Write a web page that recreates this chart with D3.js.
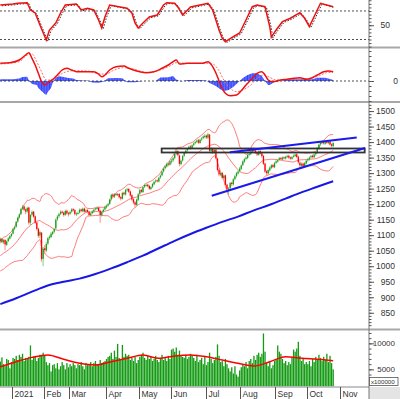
<!DOCTYPE html>
<html><head><meta charset="utf-8">
<script src="https://cdn.jsdelivr.net/npm/d3@7"></script>
<style>html,body{margin:0;padding:0;background:#fff;}svg{display:block;}</style>
</head><body><svg id="c" width="400" height="399"></svg>
<script>
// ---------- DATA ----------
const monthLabels = ["2021","Feb","Mar","Apr","May","Jun","Jul","Aug","Sep","Oct","Nov"];
const monthStartIdx = [8,28,44,67,88,108,130,152,174,194,215];
const priorClose = [1000,1005,1002,1010,1015,1012,1020,1018,1025,1030,1028,1035,1040,1045,1048,1055,1060,1068,1072];
const close = [1088,1078,1084,1070,1080,1090,1097,1104,
1120,1126,1143,1156,1167,1184,1192,1182,1176,1188,1140,1165,1175,1160,1140,1120,1098,1110,1023,1056,
1052,1072,1090,1095,1105,1110,1120,1150,1160,1168,1175,1172,1165,1178,1170,1168,
1175,1183,1180,1168,1170,1172,1182,1178,1185,1176,1180,1175,1165,1170,1177,1182,1186,1188,1178,1165,1175,1182,1191,
1195,1200,1215,1230,1225,1232,1230,1232,1222,1218,1236,1232,1245,1248,1240,1228,1215,1205,1198,1215,1232,
1245,1240,1255,1262,1262,1258,1250,1255,1265,1272,1276,1274,1285,1292,1305,1315,1322,1330,1328,1338,
1340,1348,1362,1370,1358,1330,1340,1355,1365,1372,1378,1385,1382,1390,1396,1400,1405,1398,1408,1412,1418,1420,
1415,1425,1372,1378,1368,1375,1348,1310,1296,1300,1285,1292,1262,1248,1250,1268,1265,1280,1290,1300,1305,1315,
1325,1338,1345,1350,1358,1362,1370,1375,1372,1365,1360,1370,1363,1355,1330,1305,1300,1310,1318,1325,1320,1332,
1338,1342,1348,1345,1350,1348,1352,1355,1350,1347,1352,1356,1360,1352,1335,1325,1330,1322,1332,1340,
1345,1350,1355,1352,1360,1365,1380,1392,1398,1402,1396,1400,1398,1402,1392,1388,1397];
const open = [1080,1089,1077,1085,1069,1081,1089,1097,
1105,1121,1127,1144,1157,1168,1185,1193,1183,1177,1189,1141,1166,1176,1161,1141,1121,1099,1108,1024,
1058,1050,1073,1091,1094,1104,1111,1122,1151,1161,1169,1176,1173,1166,1179,1171,
1169,1176,1184,1181,1167,1171,1173,1183,1177,1186,1175,1181,1176,1164,1171,1176,1183,1185,1189,1179,1164,1176,1183,
1190,1196,1201,1216,1231,1224,1233,1229,1233,1223,1217,1237,1231,1246,1249,1241,1229,1216,1206,1197,1214,
1233,1246,1239,1256,1261,1263,1259,1249,1256,1264,1273,1277,1273,1286,1293,1306,1316,1321,1331,1327,
1339,1341,1349,1363,1371,1357,1329,1341,1356,1366,1373,1379,1386,1381,1391,1397,1401,1406,1397,1409,1413,1417,
1421,1414,1424,1371,1379,1367,1376,1347,1311,1295,1301,1284,1293,1263,1247,1251,1269,1264,1281,1291,1299,1306,
1314,1326,1337,1346,1349,1359,1361,1369,1376,1373,1366,1359,1371,1364,1356,1331,1306,1299,1309,1317,1326,1319,
1333,1337,1343,1349,1344,1351,1347,1353,1356,1351,1346,1353,1355,1361,1353,1334,1324,1331,1321,1331,
1341,1344,1351,1356,1351,1361,1366,1381,1393,1397,1403,1395,1401,1397,1403,1393,1387];
const high = [1093,1091,1088,1087,1083,1093,1100,1107,
1124,1131,1146,1160,1170,1188,1197,1196,1186,1192,1192,1168,1180,1178,1164,1145,1124,1115,1110,1062,
1068,1078,1094,1100,1110,1114,1124,1154,1165,1172,1180,1180,1176,1182,1183,1175,
1179,1187,1188,1184,1174,1176,1186,1186,1189,1189,1184,1184,1178,1173,1180,1186,1190,1193,1192,1182,1178,1186,1195,
1199,1204,1218,1234,1235,1236,1236,1236,1236,1226,1240,1240,1249,1253,1252,1244,1232,1220,1210,1218,1236,
1250,1249,1258,1266,1267,1266,1262,1258,1268,1276,1280,1280,1288,1296,1308,1318,1326,1334,1334,1342,
1346,1352,1366,1378,1374,1360,1344,1358,1368,1376,1381,1389,1390,1393,1399,1404,1409,1410,1411,1416,1422,1426,
1424,1430,1426,1383,1382,1379,1378,1350,1315,1306,1304,1296,1295,1266,1255,1272,1272,1284,1294,1304,1310,1320,
1328,1341,1349,1354,1362,1366,1374,1380,1381,1376,1369,1374,1375,1367,1358,1334,1310,1314,1322,1329,1330,1336,
1342,1346,1352,1352,1354,1354,1356,1359,1359,1354,1355,1360,1364,1364,1356,1338,1334,1334,1336,1344,
1349,1354,1359,1360,1363,1368,1384,1396,1402,1406,1406,1404,1404,1406,1406,1396,1400];
const low = [1074,1074,1072,1052,1065,1077,1086,1093,
1102,1116,1124,1140,1154,1165,1181,1178,1168,1172,1134,1132,1160,1155,1136,1115,1092,1090,1015,1000,
1040,1045,1068,1085,1090,1100,1106,1118,1146,1156,1165,1168,1160,1162,1166,1160,
1165,1172,1176,1164,1162,1166,1170,1174,1174,1172,1172,1170,1160,1161,1168,1173,1180,1182,1174,1140,1160,1172,1180,
1186,1192,1198,1212,1220,1220,1226,1226,1218,1212,1215,1228,1228,1240,1236,1224,1211,1200,1190,1195,1210,
1230,1236,1236,1252,1257,1254,1246,1245,1252,1261,1269,1270,1270,1282,1290,1302,1312,1318,1322,1324,
1330,1336,1345,1358,1354,1322,1325,1337,1352,1362,1369,1375,1376,1378,1386,1393,1397,1394,1395,1404,1409,1412,
1410,1410,1366,1362,1362,1362,1344,1305,1290,1290,1280,1280,1258,1240,1230,1246,1258,1260,1276,1286,1295,1302,
1310,1322,1333,1342,1345,1354,1358,1365,1368,1362,1355,1356,1360,1350,1326,1300,1292,1296,1305,1313,1316,1316,
1330,1334,1340,1341,1341,1344,1344,1349,1346,1343,1343,1350,1352,1348,1330,1318,1320,1316,1318,1328,
1336,1340,1347,1348,1348,1356,1362,1376,1388,1393,1392,1391,1394,1393,1389,1383,1384];
const volume = [6500,7300,6000,5600,7000,6800,5200,6400,
7200,7000,7600,6800,7800,7400,8000,6600,7200,7000,7400,9600,6800,7400,7600,6600,7200,7800,7600,8200,
7600,6400,5800,6200,4600,5800,6000,5200,6200,5000,5600,6400,5800,5000,6200,5400,
6000,5600,6200,5800,5200,6000,5800,6400,5600,5000,6200,5800,6000,6400,5600,6200,6600,5800,6000,6800,6200,6400,6600,
7000,7400,7600,8200,7000,8600,7400,9900,7200,6800,9700,7400,8000,7600,7800,6800,7200,6600,7400,6200,6800,
7400,7800,8200,7200,6800,7600,7000,7400,6600,7000,7600,6800,6400,7200,7800,6800,7200,6600,7600,7000,
8800,9000,8400,9200,7800,8600,7600,7400,7200,7800,7000,7400,8000,7600,7200,6600,7800,6400,6800,7200,6000,7400,
5800,6400,8200,7000,6200,6800,7400,9800,7600,6400,6600,5600,7000,6000,5200,4600,5400,4200,5600,4000,3600,4800,
5400,6000,5600,6400,5200,6600,7000,6200,7600,6800,7800,8200,7400,8000,11900,8400,6200,5600,6400,5200,5800,6600,
6800,9600,8400,8000,7000,6200,6600,5800,6400,6000,7400,8800,8400,9000,10300,7600,6600,7200,6000,6400,
6000,6600,5600,7000,6400,7400,6800,7800,7200,6600,7400,6800,8000,6400,7600,6200,5000];
const ma200Idx = [0,10,20,30,40,50,60,70,80,90,100,110,120,130,140,150,160,170,180,190,200,210];
const ma200 = [878,897,918,938,950,960,975,993,1013,1034,1058,1082,1104,1124,1143,1160,1180,1198,1218,1238,1256,1274];
const volMaIdx = [0,10,20,30,40,50,60,70,80,90,100,110,120,130,140,150,160,170,180,190,200,210];
const volMa = [5500,6470,7300,7760,6930,6160,5830,6470,7120,7760,7120,7570,7760,7430,6800,6160,5640,6470,7430,7120,6930,6660];
const rsiIdx = [0,8,11,17,19,22,25,29,31,35,38,41,48,51,55,59,62,64,66,69,80,83,85,87,90,94,99,103,105,110,112,115,120,126,131,134,138,140,142,147,151,155,159,162,167,170,171,174,178,183,189,192,195,199,202,206,210];
const rsiVal = [78.4,79.8,80.8,81.6,71.4,67.2,50.4,29.3,43.3,53.2,67.2,78.4,79.8,71.4,73.8,71.4,57.4,46.1,61.6,78.4,73.8,67.2,53.2,46.1,53.2,61.6,64.4,78.4,81.6,80.8,75.6,64.4,75.6,78.4,80.8,71.4,43.3,32.1,26.9,33.9,39.1,57.4,76.0,78.4,76.0,48.0,33.1,43.3,55.0,59.8,67.6,59.8,48.0,66.8,80.8,78.4,76.0];
const rsiLevels = [70,30];
const macdIdx = [0,6,12,16,18,20,22,24,26,28,31,34,36,39,42,45,48,55,59,62,64,66,69,73,78,81,84,88,92,97,102,106,109,111,113,118,122,126,129,131,134,137,139,142,145,149,152,155,159,162,165,167,169,172,177,181,185,189,193,196,200,204,207,210];
const macdVal = [17.7,18.3,21,26,28.3,22.7,16,7.7,-0.7,-4,-0.7,2.7,6,11,12.7,11,9.3,9.3,9.3,7,4.3,6,11,14.3,15,12.7,11,9.3,8.3,9.3,12.7,16,19.3,21,17,17.7,17.7,17.7,18.3,19.3,14.3,4.3,-4,-12.3,-14.7,-14,-9.7,-4,2.7,7.7,9.3,6,1,-0.7,1,1.7,2.7,3.3,1.7,2.7,6,9.3,10,9.3];
const sigIdx = [0,12,17,20,23,26,29,32,36,40,46,55,63,67,71,78,84,92,101,107,111,118,130,134,138,141,145,149,153,158,162,166,170,174,183,193,200,206,210];
const sigVal = [17,19.3,26,27,19.3,9.3,1,1,4.3,8.3,10.3,10,7,7,10.3,13.3,12,8.7,11,15,18.3,17.7,17.7,17,10.3,1,-7.3,-10.7,-9,-4,2.7,6,3.7,1,1.7,2.3,4.3,8.3,8.7];
const histIdx = [0,8,12,14,17,18,20,23,24,26,28,29,30,32,33,35,37,40,43,46,48,52,55,58,62,65,68,73,77,80,85,88,90,98,101,106,109,111,114,118,126,130,132,136,139,141,144,147,149,151,153,156,159,162,165,167,169,170,173,178,181,188,197,200,205,208,210];
const histVal = [1.7,1.7,2.5,4,4.3,0.5,-3,-4,-7,-10,-13,-14,-11,-7,-2,3.5,4.7,4,3,2.5,1,0.5,0.5,-1.5,-1.7,-0.7,2.7,3,2.7,-1.3,-1.3,-0.5,0,0,3.5,3.7,5,1.5,-0.5,1,1,0.5,-2,-5,-8.5,-10,-9,-6,-3,0,3,6,7.7,7.7,5,0,-4,-4,-1,0.5,1.7,1.7,1.7,3.3,3.3,2,1];
const trendFrom = [[133.4,1227.3],[144.9,1367.1]];
const trendTo   = [[230.1,1381.0],[224.9,1414.8]];
const zoneIdx = [101.8,229.9];
const zonePrice = [1366.5,1379.4];
const priceTicks = [850,900,950,1000,1050,1100,1150,1200,1250,1300,1350,1400,1450,1500];
const volTicks = [5000,10000];
const rsiTicks = [50];
const macdTicks = [0];

// ---------- LAYOUT ----------
const svg = d3.select("#c");
const AX = 369;
const x = d3.scaleLinear().domain([0,210]).range([0.3,333.15]);
const yP = d3.scaleLinear().domain([800,1526]).range([328.3,103]);
const yV = d3.scaleLinear().domain([1700,12300]).range([386.5,331.4]);
const yR = d3.scaleLinear().domain([19.5,85.4]).range([47,0]);
const yM = d3.scaleLinear().domain([-20,33]).range([101,48]);
const FONT = "'Liberation Sans', Arial, sans-serif";

const defs = svg.append("defs");
function clip(id,y0,y1){defs.append("clipPath").attr("id",id).append("rect").attr("x",0).attr("y",y0).attr("width",AX).attr("height",y1-y0);}
clip("cR",0,47); clip("cM",48.5,101); clip("cP",103,328.5); clip("cV",331,386.5);

// ---------- RSI PANEL ----------
const gR = svg.append("g").attr("clip-path","url(#cR)");
rsiLevels.forEach(v=>gR.append("line").attr("x1",0).attr("x2",AX).attr("y1",yR(v)).attr("y2",yR(v))
  .attr("stroke","#222").attr("stroke-width",0.8).attr("stroke-dasharray","2,2"));
const rsiPts = rsiIdx.map((d,k)=>[d,rsiVal[k]]);
const lineR = d3.line().x(d=>x(d[0])).y(d=>yR(d[1]));
gR.append("path").attr("d",lineR(rsiPts)).attr("fill","none").attr("stroke","#333")
  .attr("stroke-width",1).attr("stroke-dasharray","1.5,1.5").attr("transform","translate(1.5,0.8)");
gR.append("path").attr("d",lineR(rsiPts)).attr("fill","none").attr("stroke","#ee1111").attr("stroke-width",1.5);

// ---------- MACD PANEL ----------
const gM = svg.append("g").attr("clip-path","url(#cM)");
const histPts = histIdx.map((d,k)=>[d,histVal[k]]);
gM.append("path").attr("d",d3.area().x(d=>x(d[0])).y0(yM(0)).y1(d=>yM(d[1]))(histPts))
  .attr("fill","#1a2cff").attr("opacity",0.9);
gM.selectAll("line.st").data(d3.range(0,211)).join("line").attr("class","st")
  .attr("x1",i=>x(i)+0.8).attr("x2",i=>x(i)+0.8).attr("y1",48).attr("y2",101)
  .attr("stroke","#fff").attr("stroke-width",0.45).attr("opacity",0.55);
gM.append("line").attr("x1",0).attr("x2",AX).attr("y1",yM(0)).attr("y2",yM(0))
  .attr("stroke","#222").attr("stroke-width",0.8).attr("stroke-dasharray","2,2");
const lineM = d3.line().x(d=>x(d[0])).y(d=>yM(d[1])).curve(d3.curveMonotoneX);
gM.append("path").attr("d",lineM(sigIdx.map((d,k)=>[d,sigVal[k]]))).attr("fill","none")
  .attr("stroke","#ff7070").attr("stroke-width",1).attr("stroke-dasharray","2,1.5");
gM.append("path").attr("d",lineM(macdIdx.map((d,k)=>[d,macdVal[k]]))).attr("fill","none")
  .attr("stroke","#ee1111").attr("stroke-width",1.5);

// ---------- PRICE PANEL ----------
const gP = svg.append("g").attr("clip-path","url(#cP)");
const allC = priorClose.concat(close), P = priorClose.length;
const bb = close.map((c,i)=>{const w=allC.slice(i+P-19,i+P+1);const m=d3.mean(w);const s=Math.sqrt(d3.mean(w,v=>(v-m)*(v-m)));return {i,m,u:m+2*s,l:m-2*s};});
["u","m","l"].forEach(k=>gP.append("path").attr("d",d3.line().x(d=>x(d.i)).y(d=>yP(d[k])).curve(d3.curveMonotoneX)(bb))
  .attr("fill","none").attr("stroke","#ff3c3c").attr("stroke-width",0.8).attr("opacity",0.85));
gP.append("path").attr("d",d3.line().x(d=>x(d[0])).y(d=>yP(d[1])).curve(d3.curveMonotoneX)(ma200Idx.map((d,k)=>[d,ma200[k]])))
  .attr("fill","none").attr("stroke","#1818e6").attr("stroke-width",2);
const bars = close.map((c,i)=>({i,o:open[i],h:high[i],l:low[i],c}));
gP.selectAll("line.wk").data(bars).join("line").attr("class","wk")
  .attr("x1",d=>x(d.i)).attr("x2",d=>x(d.i)).attr("y1",d=>yP(d.h)).attr("y2",d=>yP(d.l))
  .attr("stroke",d=>d.c>=d.o?"#7fd07f":"#ff8a8a").attr("stroke-width",1);
gP.selectAll("rect.bd").data(bars).join("rect").attr("class","bd")
  .attr("x",d=>x(d.i)-0.6).attr("width",1.3)
  .attr("y",d=>yP(Math.max(d.o,d.c))).attr("height",d=>Math.max(1,Math.abs(yP(d.o)-yP(d.c))))
  .attr("fill",d=>d.c>=d.o?"#1c9c1c":"#ff0000");
gP.append("rect").attr("x",x(zoneIdx[0])).attr("width",x(zoneIdx[1])-x(zoneIdx[0]))
  .attr("y",yP(zonePrice[1])).attr("height",yP(zonePrice[0])-yP(zonePrice[1]))
  .attr("fill","none").attr("stroke","#333").attr("stroke-width",1.8);
trendFrom.forEach((f,k)=>gP.append("line").attr("x1",x(f[0])).attr("y1",yP(f[1]))
  .attr("x2",x(trendTo[k][0])).attr("y2",yP(trendTo[k][1])).attr("stroke","#1a1aee").attr("stroke-width",2));

// ---------- VOLUME PANEL ----------
const gV = svg.append("g").attr("clip-path","url(#cV)");
gV.selectAll("rect.v").data(volume).join("rect").attr("class","v")
  .attr("x",(d,i)=>x(i)-0.6).attr("width",1.3).attr("y",d=>yV(d)).attr("height",d=>yV(1700)-yV(d))
  .attr("fill","#129a12");
gV.append("path").attr("d",d3.line().x(d=>x(d[0])).y(d=>yV(d[1])).curve(d3.curveMonotoneX)(volMaIdx.map((d,k)=>[d,volMa[k]])))
  .attr("fill","none").attr("stroke","#ff0000").attr("stroke-width",1.5);

// ---------- FRAME / SEPARATORS ----------
[47.5,102,329.5].forEach(y=>svg.append("line").attr("x1",0).attr("x2",400).attr("y1",y).attr("y2",y)
  .attr("stroke","#a8a8a8").attr("stroke-width",2));
svg.append("line").attr("x1",0).attr("x2",AX).attr("y1",387).attr("y2",387).attr("stroke","#888").attr("stroke-width",1);
svg.append("rect").attr("x",AX).attr("y",387).attr("width",31).attr("height",12).attr("fill","#e4e4e4");
svg.append("line").attr("x1",AX).attr("x2",AX).attr("y1",0).attr("y2",399).attr("stroke","#777").attr("stroke-width",1);

function rightAxis(scale, majors, minors, fmt, fs, xEnd){
  const g1 = svg.append("g").attr("transform",`translate(${AX},0)`)
    .call(d3.axisRight(scale).tickValues(minors).tickSize(2.5).tickFormat(""));
  const g2 = svg.append("g").attr("transform",`translate(${AX},0)`)
    .call(d3.axisRight(scale).tickValues(majors).tickSize(5).tickFormat(fmt));
  [g1,g2].forEach(g=>{g.select(".domain").remove();g.selectAll(".tick line").attr("stroke","#555");});
  g2.selectAll("text").attr("x",xEnd-AX).attr("text-anchor","end").attr("fill","#333")
    .attr("font-family",FONT).attr("font-size",fs);
}
rightAxis(yR, rsiTicks, d3.range(20,86,5), d3.format("d"), 8.5, 390);
rightAxis(yM, macdTicks, d3.range(-20,34,5), d3.format("d"), 8.5, 398);
rightAxis(yP, priceTicks, d3.range(810,1530,10), d3.format("d"), 8.5, 395);
rightAxis(yV, volTicks, d3.range(2000,12300,1000), d3.format("d"), 8, 395);

// x100000 box
svg.append("rect").attr("x",369.5).attr("y",377.5).attr("width",28.5).attr("height",8)
  .attr("fill","#fff").attr("stroke","#555").attr("stroke-width",0.8);
svg.append("text").attr("x",371).attr("y",384).attr("font-family",FONT).attr("font-size",6.2)
  .attr("fill","#333").text("x100000");

// x axis months
const gX = svg.append("g");
monthStartIdx.forEach((mi,k)=>{
  const xx = Math.round(x(mi)-0.8)+0.5;
  gX.append("line").attr("x1",xx).attr("x2",xx).attr("y1",387).attr("y2",399).attr("stroke","#555");
  gX.append("text").attr("x",xx+2).attr("y",397).attr("font-family",FONT).attr("font-size",8.5)
    .attr("fill","#333").text(monthLabels[k]);
});
</script></body></html>
